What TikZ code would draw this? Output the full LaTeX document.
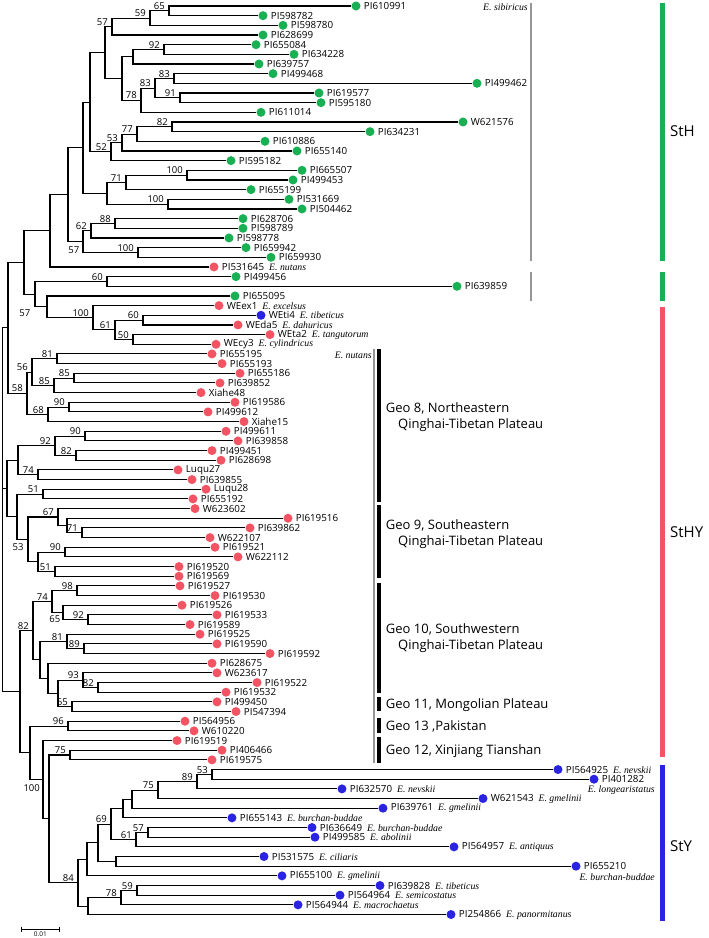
\documentclass[tikz,border=0pt]{standalone}
\usepackage{fontspec}
\setmainfont{Liberation Serif}
\setsansfont{Open Sans}
\newfontfamily\spfont{Liberation Serif}
\usetikzlibrary{calc}

\definecolor{stgreen}{RGB}{24,176,82}
\definecolor{stred}{RGB}{242,84,100}
\definecolor{stblue}{RGB}{42,36,226}
\definecolor{bargrey}{RGB}{150,150,150}

\newcommand{\spname}[1]{\hspace{5pt}{\spfont\itshape\fontsize{9.8}{10}\selectfont #1}}
\newcommand{\leaf}[5]{\node[tip node=#4, label={[tip label]right:#1#5}] (#1) at (#3,{6+(#2-1)*9.665}) {};}
\newcommand{\clade}[6][support]{%
  \path let \p1=($(#4)!.5!(#5)$) in (#3pt,\y1) coordinate (#2);
  \draw[branch] (#4) -| (#2) |- (#5);
  \node[#1] (#2-bs) at (#2) {#6};}

\begin{document}
\begin{tikzpicture}[x=1pt, y=-1pt,
  tip node/.style={circle, fill=#1, inner sep=0pt, minimum size=9pt, label distance=1pt},
  tip label/.style={font=\sffamily\fontsize{9.8}{10}\selectfont, inner sep=0pt, xshift=3pt},
  branch/.style={line width=1.1pt},
  bs/.style={font=\sffamily\fontsize{9.5}{10}\selectfont, inner sep=0pt},
  support/.style={bs, anchor=south east, xshift=-4pt, yshift=1pt},
  sp label/.style={font=\spfont\itshape\fontsize{9.8}{10}\selectfont, inner sep=0pt},
  geo label/.style={font=\sffamily\fontsize{13}{16}\selectfont, anchor=west, align=left, inner sep=0pt},
  group label/.style={font=\sffamily\fontsize{15}{15}\selectfont, anchor=west, inner sep=0pt},
  grey bar/.style={bargrey, line width=2pt},
  geo bar/.style={line width=3.2pt},
  group bar/.style={line width=4.7pt}]

\useasboundingbox (0,0) rectangle (709,938);

% StH
\leaf{PI610991}{1}{356}{stgreen}{}
\leaf{PI598782}{2}{263}{stgreen}{}
\leaf{PI598780}{3}{283}{stgreen}{}
\leaf{PI628699}{4}{263}{stgreen}{}
\leaf{PI655084}{5}{256}{stgreen}{}
\leaf{PI634228}{6}{294}{stgreen}{}
\leaf{PI639757}{7}{259}{stgreen}{}
\leaf{PI499468}{8}{273}{stgreen}{}
\leaf{PI499462}{9}{477}{stgreen}{}
\leaf{PI619577}{10}{319}{stgreen}{}
\leaf{PI595180}{11}{321}{stgreen}{}
\leaf{PI611014}{12}{261}{stgreen}{}
\leaf{W621576}{13}{463}{stgreen}{}
\leaf{PI634231}{14}{370}{stgreen}{}
\leaf{PI610886}{15}{265}{stgreen}{}
\leaf{PI655140}{16}{297}{stgreen}{}
\leaf{PI595182}{17}{231}{stgreen}{}
\leaf{PI665507}{18}{302}{stgreen}{}
\leaf{PI499453}{19}{293}{stgreen}{}
\leaf{PI655199}{20}{251}{stgreen}{}
\leaf{PI531669}{21}{289}{stgreen}{}
\leaf{PI504462}{22}{302}{stgreen}{}
\leaf{PI628706}{23}{243}{stgreen}{}
\leaf{PI598789}{24}{243}{stgreen}{}
\leaf{PI598778}{25}{229}{stgreen}{}
\leaf{PI659942}{26}{246}{stgreen}{}
\leaf{PI659930}{27}{271}{stgreen}{}
\leaf{PI531645}{28}{214}{stred}{\spname{E. nutans}}
\leaf{PI499456}{29}{236}{stgreen}{}
\leaf{PI639859}{30}{457}{stgreen}{}
\leaf{PI655095}{31}{235}{stgreen}{}
\leaf{WEex1}{32}{219}{stred}{\spname{E. excelsus}}
\leaf{WEti4}{33}{261}{stblue}{\spname{E. tibeticus}}
\leaf{WEda5}{34}{238}{stred}{\spname{E. dahuricus}}
\leaf{WEta2}{35}{270}{stred}{\spname{E. tangutorum}}
\leaf{WEcy3}{36}{216}{stred}{\spname{E. cylindricus}}
% StHY
\leaf{PI655195}{37}{212}{stred}{}
\leaf{PI655193}{38}{222}{stred}{}
\leaf{PI655186}{39}{240}{stred}{}
\leaf{PI639852}{40}{220}{stred}{}
\leaf{Xiahe48}{41}{201}{stred}{}
\leaf{PI619586}{42}{235}{stred}{}
\leaf{PI499612}{43}{208}{stred}{}
\leaf{Xiahe15}{44}{244}{stred}{}
\leaf{PI499611}{45}{226}{stred}{}
\leaf{PI639858}{46}{238}{stred}{}
\leaf{PI499451}{47}{212}{stred}{}
\leaf{PI628698}{48}{221}{stred}{}
\leaf{Luqu27}{49}{178}{stred}{}
\leaf{PI639855}{50}{192}{stred}{}
\leaf{Luqu28}{51}{206}{stred}{}
\leaf{PI655192}{52}{193}{stred}{}
\leaf{W623602}{53}{195}{stred}{}
\leaf{PI619516}{54}{288}{stred}{}
\leaf{PI639862}{55}{250}{stred}{}
\leaf{W622107}{56}{210}{stred}{}
\leaf{PI619521}{57}{215}{stred}{}
\leaf{W622112}{58}{238}{stred}{}
\leaf{PI619520}{59}{179}{stred}{}
\leaf{PI619569}{60}{179}{stred}{}
\leaf{PI619527}{61}{180}{stred}{}
\leaf{PI619530}{62}{215}{stred}{}
\leaf{PI619526}{63}{182}{stred}{}
\leaf{PI619533}{64}{217}{stred}{}
\leaf{PI619589}{65}{190}{stred}{}
\leaf{PI619525}{66}{200}{stred}{}
\leaf{PI619590}{67}{217}{stred}{}
\leaf{PI619592}{68}{270}{stred}{}
\leaf{PI628675}{69}{212}{stred}{}
\leaf{W623617}{70}{217}{stred}{}
\leaf{PI619522}{71}{257}{stred}{}
\leaf{PI619532}{72}{226}{stred}{}
\leaf{PI499450}{73}{217}{stred}{}
\leaf{PI547394}{74}{236}{stred}{}
\leaf{PI564956}{75}{185}{stred}{}
\leaf{W610220}{76}{194}{stred}{}
\leaf{PI619519}{77}{177}{stred}{}
\leaf{PI406466}{78}{222}{stred}{}
\leaf{PI619575}{79}{212}{stred}{}
% StY
\leaf{PI564925}{80}{558}{stblue}{\spname{E. nevskii}}
\leaf{PI401282}{81}{594}{stblue}{}
\leaf{PI632570}{82}{342}{stblue}{\spname{E. nevskii}}
\leaf{W621543}{83}{483}{stblue}{\spname{E. gmelinii}}
\leaf{PI639761}{84}{383}{stblue}{\spname{E. gmelinii}}
\leaf{PI655143}{85}{232}{stblue}{\spname{E. burchan-buddae}}
\leaf{PI636649}{86}{312}{stblue}{\spname{E. burchan-buddae}}
\leaf{PI499585}{87}{315}{stblue}{\spname{E. abolinii}}
\leaf{PI564957}{88}{454}{stblue}{\spname{E. antiquus}}
\leaf{PI531575}{89}{264}{stblue}{\spname{E. ciliaris}}
\leaf{PI655210}{90}{576}{stblue}{}
\leaf{PI655100}{91}{282}{stblue}{\spname{E. gmelinii}}
\leaf{PI639828}{92}{380}{stblue}{\spname{E. tibeticus}}
\leaf{PI564964}{93}{340}{stblue}{\spname{E. semicostatus}}
\leaf{PI564944}{94}{298}{stblue}{\spname{E. macrochaetus}}
\leaf{PI254866}{95}{451}{stblue}{\spname{E. panormitanus}}
\node[sp label, anchor=east] (longearistatus) at (655,790) {E. longearistatus};
\node[sp label, anchor=east] (burchan) at (655,877.5) {E. burchan-buddae};

\clade{nA}{169}{PI610991}{PI598782}{65}
\clade{nB}{150}{nA}{PI598780}{59}
\clade{nC}{112}{nB}{PI628699}{57}
\clade{nD}{164}{PI655084}{PI634228}{92}
\clade{nE}{133}{nD}{PI639757}{}
\clade{nF}{174}{PI499468}{PI499462}{83}
\clade{nG}{180}{PI619577}{PI595180}{91}
\clade{nH}{155}{nF}{nG}{83}
\clade{nI}{141}{nH}{PI611014}{78}
\clade{nJ}{122}{nE}{nI}{}
\clade{nK}{105}{nC}{nJ}{}
\clade{n82a}{172}{W621576}{PI634231}{82}
\clade{n77}{137}{n82a}{PI610886}{77}
\clade{n53a}{122}{n77}{PI655140}{53}
\clade{n52}{111}{n53a}{PI595182}{52}
\clade{nL}{90}{nK}{n52}{}
\clade{n100a}{187}{PI665507}{PI499453}{100}
\clade{n71a}{126}{n100a}{PI655199}{71}
\clade{n100b}{168}{PI531669}{PI504462}{100}
\clade{nX}{107}{n71a}{n100b}{}
\clade{nM}{83}{nL}{nX}{}
\clade{n88}{115}{PI628706}{PI598789}{88}
\clade{n62}{91}{n88}{PI598778}{62}
\clade{n100c}{138}{PI659942}{PI659930}{100}
\clade[bs, anchor=north east, xshift=-3.5pt, yshift=-5pt]{n57b}{83}{n62}{n100c}{57}
\clade{nS}{68}{nM}{n57b}{}
\clade{nN}{50}{nS}{PI531645}{}
\clade{n60a}{107}{PI499456}{PI639859}{60}
\clade{n60b}{143}{WEti4}{WEda5}{60}
\clade{n50}{133}{WEta2}{WEcy3}{50}
\clade{n61a}{115}{n60b}{n50}{61}
\clade{n100d}{93}{WEex1}{n61a}{100}
\clade{n57c}{47}{PI655095}{n100d}{}
\clade[bs, anchor=north east, xshift=-4.5pt, yshift=-15pt]{nO}{35}{n60a}{n57c}{57}
\clade{nP}{24}{nN}{nO}{}

\clade{n81a}{57}{PI655195}{PI655193}{81}
\clade{n85a}{74}{PI655186}{PI639852}{85}
\clade{n85b}{54}{n85a}{Xiahe48}{85}
\clade{n56}{32}{n81a}{n85b}{56}
\clade{n90a}{69}{PI619586}{PI499612}{90}
\clade{n68}{48}{n90a}{Xiahe15}{68}
\clade{n58}{27}{n56}{n68}{58}
\clade{nQ}{8}{nP}{n58}{}

\clade{n90b}{85}{PI499611}{PI639858}{90}
\clade{n82b}{76}{PI499451}{PI628698}{82}
\clade{n92b}{55}{n90b}{n82b}{92}
\clade{n74a}{38}{Luqu27}{PI639855}{74}
\clade{nT}{18}{n92b}{n74a}{}
\clade{n51a}{43}{Luqu28}{PI655192}{51}
\clade{n71b}{82}{PI639862}{W622107}{71}
\clade{nU}{67}{PI619516}{n71b}{}
\clade{n67}{58}{W623602}{nU}{67}
\clade{n90c}{65}{PI619521}{W622112}{90}
\clade{n51b}{55}{PI619520}{PI619569}{51}
\clade{nV}{38}{n90c}{n51b}{}
\clade{nW}{28}{n67}{nV}{}
\clade[bs, anchor=north, xshift=1pt, yshift=-27pt]{n53b}{17}{n51a}{nW}{53}
\clade{nBB}{7}{nT}{n53b}{}

\clade{n98}{77}{PI619527}{PI619530}{98}
\clade{n92c}{88}{PI619533}{PI619589}{92}
\clade[bs, anchor=east, xshift=-2.5pt, yshift=-7pt]{n65a}{63}{PI619526}{n92c}{65}
\clade{n74b}{52}{n98}{n65a}{74}
\clade{n89a}{84}{PI619590}{PI619592}{89}
\clade{n81b}{67}{PI619525}{n89a}{81}
\clade{n82c}{98}{PI619522}{PI619532}{82}
\clade{n93}{83}{W623617}{n82c}{93}
\clade{n65b}{72}{PI499450}{PI547394}{65}
\clade{nY1}{58}{n93}{n65b}{}
\clade{nY2}{48}{PI628675}{nY1}{}
\clade{nY3}{40}{n81b}{nY2}{}
\clade{n82d}{33}{n74b}{nY3}{82}
\clade{n96}{68}{PI564956}{W610220}{96}
\clade{n75a}{70}{PI406466}{PI619575}{75}

\clade{n53c}{212}{PI564925}{PI401282}{53}
\clade{n89b}{197}{n53c}{PI632570}{89}
\clade{n75b}{158}{n89b}{W621543}{75}
\clade{nDD}{132}{n75b}{PI639761}{}
\clade{nEE}{123}{nDD}{PI655143}{}
\clade{n57d}{148}{PI636649}{PI499585}{57}
\clade{n61b}{136}{n57d}{PI564957}{61}
\clade{n69}{111}{nEE}{n61b}{69}
\clade{nGG}{116}{PI531575}{PI655210}{}
\clade{nHH}{98}{n69}{nGG}{}
\clade{nII}{87}{nHH}{PI655100}{}
\clade{n59}{137}{PI639828}{PI564964}{59}
\clade{n78}{121}{n59}{PI564944}{78}
\clade{nJJ}{88}{n78}{PI254866}{}
\clade{n84}{78}{nII}{nJJ}{84}
\clade{nZ2}{49}{n75a}{n84}{}
\clade[bs, anchor=north east, xshift=-3pt, yshift=-4.5pt]{nZ1}{43}{PI619519}{nZ2}{100}
\clade{nZ0}{30}{n96}{nZ1}{}
\clade{nAA}{20}{n82d}{nZ0}{}

\coordinate (root) at (2.7,500);
\draw[branch] (nQ) -| (root) |- (nAA);
\draw[branch] (root |- nBB) -- (nBB);

% clade bars
\node[sp label, anchor=east] (sibiricus) at (528,7) {E. sibiricus};
\draw[grey bar] (530.7,3) -- (530.7,261);
\draw[grey bar] (530.7,272) -- (530.7,301);
\node[sp label, anchor=east] (nutans) at (372,355) {E. nutans};
\draw[grey bar] (374,349) -- (374,763);

\draw[geo bar] (379,349) -- (379,501.7);
\draw[geo bar] (379,505) -- (379,578);
\draw[geo bar] (379,582.7) -- (379,693);
\draw[geo bar] (379,697) -- (379,710.7);
\draw[geo bar] (379,718) -- (379,733);
\draw[geo bar] (379,736.7) -- (379,763);
\node[geo label] (geo8) at (385.7,417) {Geo 8, Northeastern\\\hspace*{12.3pt}Qinghai-Tibetan Plateau};
\node[geo label] (geo9) at (385.7,534) {Geo 9, Southeastern\\\hspace*{12.3pt}Qinghai-Tibetan Plateau};
\node[geo label] (geo10) at (385.7,638) {Geo 10, Southwestern\\\hspace*{12.3pt}Qinghai-Tibetan Plateau};
\node[geo label] (geo11) at (385.7,705) {Geo 11, Mongolian Plateau};
\node[geo label] (geo13) at (385.7,726) {Geo 13 ,Pakistan};
\node[geo label] (geo12) at (385.7,751) {Geo 12, Xinjiang Tianshan};

\draw[group bar, stgreen] (662.7,3) -- (662.7,261);
\draw[group bar, stgreen] (662.7,272) -- (662.7,301);
\draw[group bar, stred] (662.7,307) -- (662.7,757);
\draw[group bar, stblue] (662.7,765) -- (662.7,921);
\node[group label] (StH) at (670,131) {StH};
\node[group label] (StHY) at (670,532) {StHY};
\node[group label] (StY) at (670,846) {StY};

% scale
\draw[line width=0.9pt] (21.7,926.5) -- (21.7,931.5) (21.7,929) -- (59,929) (59,926.5) -- (59,931.5);
\node[font=\sffamily\fontsize{6.5}{7}\selectfont, inner sep=0pt] (scale) at (40.3,934.5) {0.01};
\end{tikzpicture}
\end{document}
